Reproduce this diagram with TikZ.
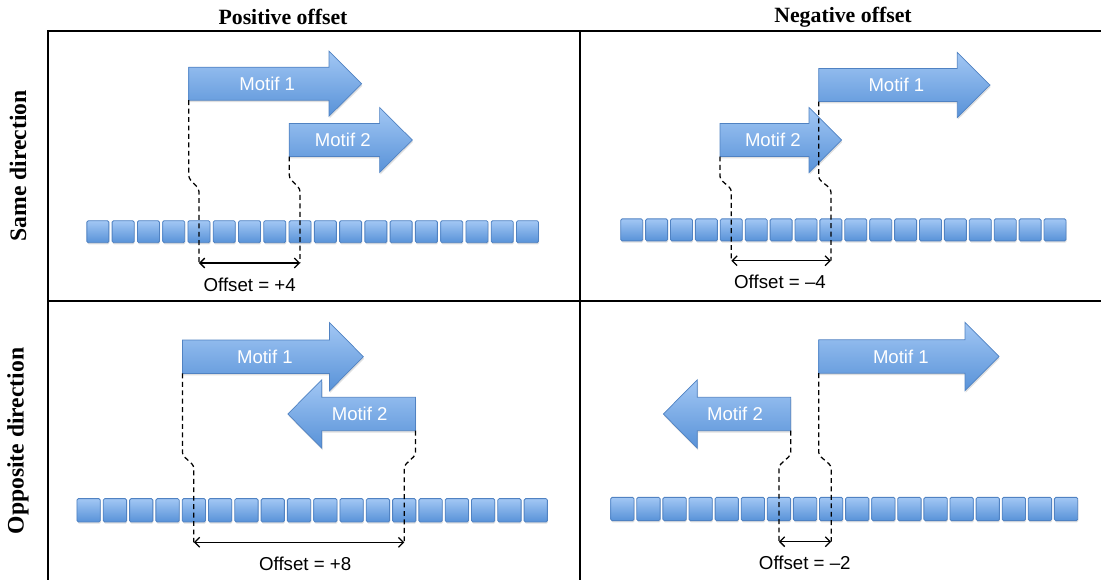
\documentclass[tikz,border=0pt]{standalone}
\usepackage{fontspec}
\setmainfont{Liberation Serif}
\setsansfont{Liberation Sans}
\usetikzlibrary{arrows.meta,shadows}
\definecolor{motiftop}{RGB}{162,199,244}
\definecolor{motifbot}{RGB}{88,146,216}
\definecolor{motifedge}{RGB}{80,130,194}

\tikzset{
  panel/.style={line width=1.4pt},
  cell/.style={draw=motifedge, line width=0.6pt, top color=motiftop, bottom color=motifbot,
    rounded corners=1pt, minimum size=#1, inner sep=0pt,
    drop shadow={shadow xshift=0.4pt, shadow yshift=-1.2pt, opacity=0.25}},
  motif/.style={draw=motifedge, line width=0.5pt, top color=motiftop, bottom color=motifbot,
    drop shadow={shadow xshift=0.5pt, shadow yshift=-1.4pt, opacity=0.25}},
  motiflbl/.style={text=white, font=\sffamily\fontsize{13.2}{13.2}\selectfont},
  guide/.style={dash pattern=on 3.5pt off 2.5pt, line width=0.9pt, rounded corners=2pt},
  span/.style={{Straight Barb[length=3.5pt,width=7pt]}-{Straight Barb[length=3.5pt,width=7pt]}, line width=0.9pt},
  offlbl/.style={font=\sffamily\fontsize{13.3}{13.3}\selectfont},
  colhead/.style={font=\bfseries\fontsize{15.5}{15.5}\selectfont},
  rowhead/.style={font=\bfseries\fontsize{16.8}{16.8}\selectfont, rotate=90},
}

% arrow: name, tail x, centre y, length, direction (1 right, -1 left), text
\newcommand{\motifarrow}[6]{%
  \draw[motif] (#2,{#3-\bh}) -- ({#2+#5*(#4-\hl)},{#3-\bh}) -- ({#2+#5*(#4-\hl)},{#3-\hh})
    -- ({#2+#5*#4},#3) -- ({#2+#5*(#4-\hl)},{#3+\hh}) -- ({#2+#5*(#4-\hl)},{#3+\bh})
    -- (#2,{#3+\bh}) -- cycle;
  \coordinate (#1-foot) at (#2,{#3+\bh});
  \node[motiflbl] (#1) at ({#2+#5*(#4/2-8)},#3) {#6};
}

\begin{document}
\begin{tikzpicture}[x=0.025cm, y=-0.025cm]
\useasboundingbox (0,0) rectangle (1101,580);

% table
\draw[panel] (1101,31) -- (48,31) -- (48,580);
\draw[panel] (580,31) -- (580,580);
\draw[panel] (48,300.7) -- (1101,300.7);
\node[colhead] (poshead) at (283,17) {Positive offset};
\node[colhead] (neghead) at (843,17) {Negative offset};
\node[rowhead] (samehead) at (18,166) {Same direction};
\node[rowhead] (opphead) at (18,441) {Opposite direction};

% sequences
\foreach \k in {1,...,18} {
  \node[cell=0.55cm] (tl-\k) at ({97.9+(\k-1)*25.27},231.7) {};
  \node[cell=0.55cm] (tr-\k) at ({631.7+(\k-1)*24.9},229.9) {};
  \node[cell=0.5825cm] (bl-\k) at ({88.65+(\k-1)*26.3},510.3) {};
  \node[cell=0.5825cm] (br-\k) at ({622.35+(\k-1)*26.1},509) {};
}

% motifs, same direction
\def\bh{16.5}\def\hh{32.5}\def\hl{32.7}
\motifarrow{tl-m1}{188.7}{83.7}{173}{1}{Motif 1}
\motifarrow{tl-m2}{289.3}{140}{123}{1}{Motif 2}
\motifarrow{tr-m1}{818.7}{85}{171.3}{1}{Motif 1}
\motifarrow{tr-m2}{720}{140}{121.7}{1}{Motif 2}

% motifs, opposite direction
\def\bh{16.7}\def\hh{34.2}\def\hl{34}
\motifarrow{bl-m1}{182.4}{356.7}{181}{1}{Motif 1}
\motifarrow{bl-m2}{415.5}{414}{127.7}{-1}{Motif 2}
\motifarrow{br-m1}{818.7}{356.5}{180.3}{1}{Motif 1}
\motifarrow{br-m2}{790.7}{414}{127.4}{-1}{Motif 2}

% guide levels
\coordinate (tl-bend) at (0,178);   \coordinate (tl-kink) at (0,189);   \coordinate (tl-low) at (0,263);
\coordinate (tr-bend) at (0,179);   \coordinate (tr-kink) at (0,189);   \coordinate (tr-low) at (0,260.7);
\coordinate (bl-bend) at (0,455);   \coordinate (bl-kink) at (0,465.7); \coordinate (bl-low) at (0,542.3);
\coordinate (br-bend) at (0,455);   \coordinate (br-kink) at (0,465.7); \coordinate (br-low) at (0,541.7);

% dashed guides
\draw[guide] (tl-m1-foot) -- (tl-m1-foot |- tl-bend) -- (tl-5 |- tl-kink) -- (tl-5 |- tl-low);
\draw[guide] (tl-m2-foot) -- (tl-m2-foot |- tl-bend) -- (tl-9 |- tl-kink) -- (tl-9 |- tl-low);
\draw[guide] (tr-m2-foot) -- (tr-m2-foot |- tr-bend) -- (tr-5 |- tr-kink) -- (tr-5 |- tr-low);
\draw[guide] (tr-m1-foot) -- (tr-m1-foot |- tr-bend) -- (tr-9 |- tr-kink) -- (tr-9 |- tr-low);
\draw[guide] (bl-m1-foot) -- (bl-m1-foot |- bl-bend) -- (bl-5 |- bl-kink) -- (bl-5 |- bl-low);
\draw[guide] (bl-m2-foot) -- (bl-m2-foot |- bl-bend) -- (bl-13 |- bl-kink) -- (bl-13 |- bl-low);
\draw[guide] (br-m2-foot) -- (br-m2-foot |- br-bend) -- (br-7 |- br-kink) -- (br-7 |- br-low);
\draw[guide] (br-m1-foot) -- (br-m1-foot |- br-bend) -- (br-9 |- br-kink) -- (br-9 |- br-low);

% offsets
\draw[span] (tl-5 |- tl-low) -- (tl-9 |- tl-low);
\draw[span] (tr-5 |- tr-low) -- (tr-9 |- tr-low);
\draw[span] (bl-5 |- bl-low) -- (bl-13 |- bl-low);
\draw[span] (br-7 |- br-low) -- (br-9 |- br-low);
\node[offlbl] (tl-off) at (249.7,285) {Offset = +4};
\node[offlbl] (tr-off) at (780,281.7) {Offset = –4};
\node[offlbl] (bl-off) at (305.2,564.3) {Offset = +8};
\node[offlbl] (br-off) at (804.8,563.3) {Offset = –2};
\end{tikzpicture}
\end{document}
